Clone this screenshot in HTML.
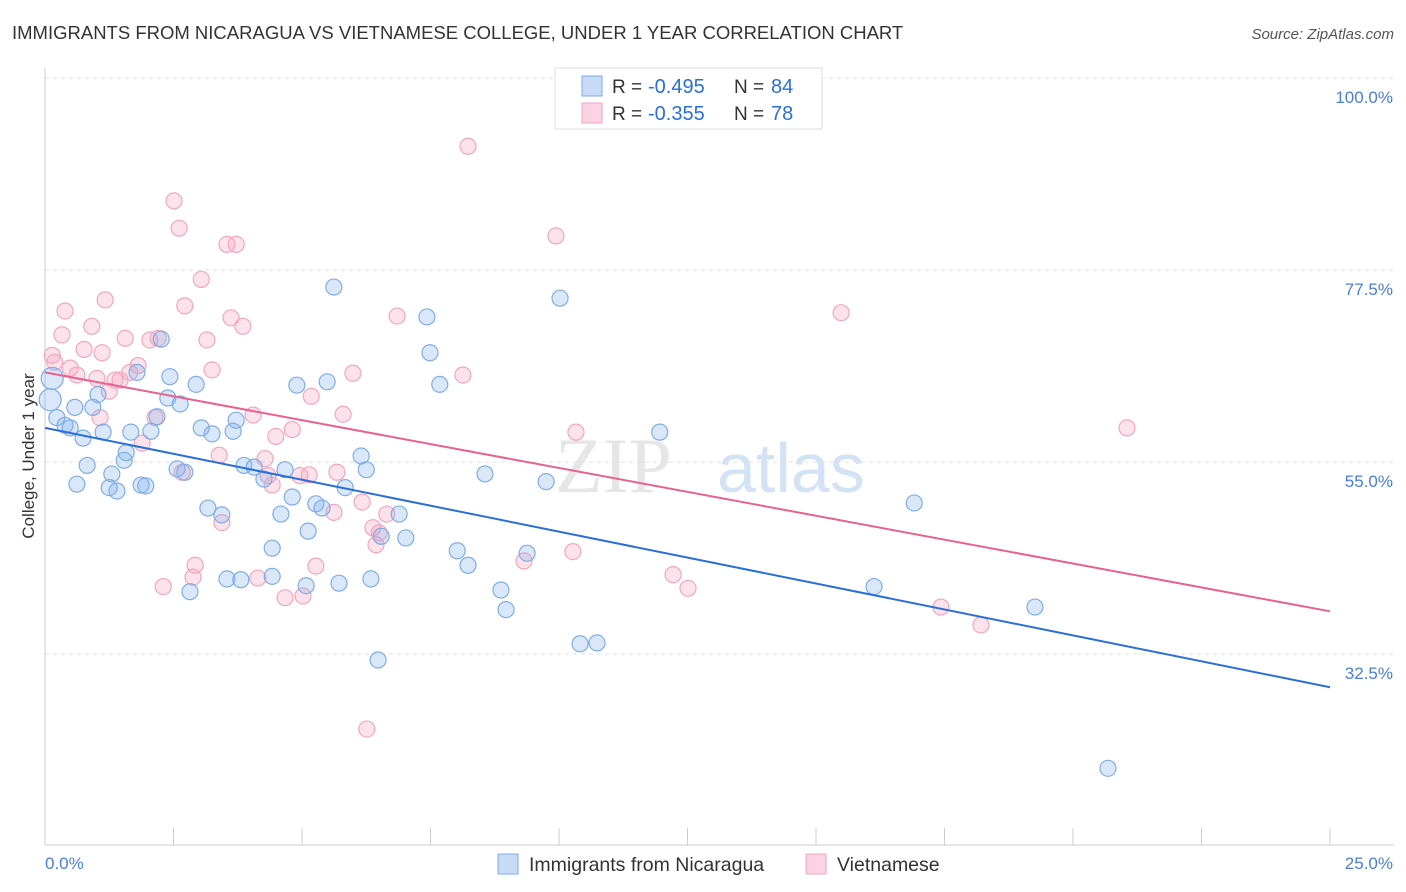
<!DOCTYPE html>
<html><head><meta charset="utf-8"><style>
body{margin:0;background:#fff;font-family:"Liberation Sans",sans-serif}
#wrap{position:relative;width:1406px;height:892px;overflow:hidden}
</style></head><body>
<div id="wrap">
<svg id="chart" width="1406" height="892"></svg>
</div>
<script>
const blueX=[0.14,0.10,0.23,0.39,0.49,0.58,0.62,0.74,0.82,0.93,1.03,1.13,1.25,1.30,1.40,1.54,1.58,1.67,1.79,1.87,1.96,2.06,2.18,2.26,2.43,2.39,2.63,2.57,2.72,2.82,2.94,3.04,3.17,3.25,3.44,3.54,3.66,3.72,3.81,3.87,4.07,4.26,4.42,4.42,4.59,4.67,4.81,4.90,5.08,5.12,5.27,5.39,5.49,5.62,5.72,5.84,6.15,6.25,6.34,6.48,6.54,6.89,7.02,7.43,7.49,7.68,8.02,8.23,8.56,8.87,8.97,9.38,9.75,10.02,10.41,10.74,11.96,16.13,16.91,19.26,20.68];
const blueY=[64.8,62.3,60.2,59.3,59.0,61.4,52.4,57.8,54.6,61.4,62.9,58.5,52.0,53.6,51.6,55.2,56.1,58.5,65.5,52.3,52.2,58.6,60.3,69.4,65.0,62.5,61.8,54.2,53.8,39.8,64.1,59.0,49.6,58.3,48.8,41.3,58.6,59.9,41.2,54.6,54.4,53.0,44.9,41.6,48.9,54.1,50.9,64.0,40.5,46.9,50.1,49.6,64.4,75.5,40.8,52.0,55.7,54.1,41.3,31.8,46.3,48.9,46.1,72.0,67.8,64.1,44.6,42.9,53.6,40.0,37.7,44.3,52.7,74.2,33.7,33.8,58.5,40.4,50.2,38.0,19.1];
const pinkX=[0.14,0.19,0.33,0.39,0.49,0.62,0.76,0.91,1.01,1.07,1.11,1.17,1.25,1.36,1.46,1.56,1.65,1.81,1.89,2.04,2.14,2.20,2.30,2.51,2.61,2.72,2.67,2.88,2.92,3.04,3.15,3.25,3.39,3.44,3.54,3.62,3.72,3.85,4.05,4.14,4.28,4.34,4.42,4.49,4.67,4.81,4.96,5.02,5.14,5.18,5.27,5.62,5.68,5.80,5.99,6.17,6.26,6.38,6.44,6.50,6.65,6.85,8.13,8.23,9.32,9.94,10.27,10.33,12.22,12.51,15.49,17.43,18.21,21.05];
const pinkY=[67.5,66.7,69.9,72.7,66.0,65.2,68.2,70.9,64.8,60.2,67.8,74.0,63.3,64.6,64.6,69.5,65.5,66.3,57.2,69.3,60.2,69.5,40.4,85.6,82.4,73.3,53.8,41.5,42.9,76.4,69.3,65.8,55.8,47.9,80.5,71.9,80.5,70.9,60.5,41.4,55.4,53.4,52.3,58.0,39.1,58.8,53.4,39.3,53.5,62.7,42.8,49.1,53.8,60.6,65.4,50.3,23.7,47.3,45.3,46.7,48.9,72.1,65.2,92.0,43.4,81.5,44.5,58.5,41.8,40.2,72.5,38.0,35.9,59.0];
const blueTrend=[59.0,28.6];
const pinkTrend=[65.5,37.5];
const yTicks=[100,77.5,55,32.5];
const yTickLabels=["100.0%","77.5%","55.0%","32.5%"];

const NS="http://www.w3.org/2000/svg";
const svg=document.getElementById('chart');
const X0=45,X1=1330;
function sx(v){return X0+(v/25)*(X1-X0);}
function sy(v){return 462-(v-55)*8.533;}
function el(tag,attrs,parent){const e=document.createElementNS(NS,tag);for(const k in attrs)e.setAttribute(k,attrs[k]);(parent||svg).appendChild(e);return e;}

let t=el('text',{x:12,y:39,'font-size':18.5,fill:'#333'});


t.textContent='IMMIGRANTS FROM NICARAGUA VS VIETNAMESE COLLEGE, UNDER 1 YEAR CORRELATION CHART';
t=el('text',{x:1394,y:39,'font-size':15,fill:'#555','font-style':'italic','text-anchor':'end'});


t.textContent='Source: ZipAtlas.com';

// watermark
t=el('text',{x:555,y:492,'font-size':78,fill:'#e6e6e6','font-family':'Liberation Serif, serif'});


t.textContent='ZIP';
t=el('text',{x:717,y:492,'font-size':70,fill:'#d4e3f4'});


t.textContent='atlas';

yTicks.forEach((v,i)=>{
  const g=el('line',{x1:X0,x2:1394,y1:sy(v),y2:sy(v),stroke:'#e2e2e2','stroke-dasharray':'4,4'});
  
  
  const l=el('text',{x:1393,y:sy(v)+25,'font-size':17,fill:'#4a7fd6','text-anchor':'end'});
  
  
  l.textContent=yTickLabels[i];
});
// axes
let a=el('line',{x1:X0,x2:X0,y1:68,y2:845,stroke:'#ccc'});


a=el('line',{x1:X0,x2:1394,y1:845,y2:845,stroke:'#ccc'});


for(let i=0;i<=10;i++){
  const tk=el('line',{x1:sx(i*2.5),x2:sx(i*2.5),y1:828,y2:845,stroke:'#ccc'});
  
  
}
t=el('text',{x:45,y:869,'font-size':17,fill:'#4a7fd6'});


t.textContent='0.0%';
t=el('text',{x:1393,y:869,'font-size':17,fill:'#4a7fd6','text-anchor':'end'});


t.textContent='25.0%';
t=el('text',{x:34,y:456,'font-size':17,fill:'#333','text-anchor':'middle',transform:'rotate(-90 34 456)'});


t.textContent='College, Under 1 year';

// points
pinkX.forEach((v,i)=>{
  const c=el('circle',{cx:sx(v),cy:sy(pinkY[i]),r:8,fill:'rgba(244,160,190,0.3)',stroke:'#f2a6c0','stroke-width':1.2});
  
  
});
blueX.forEach((v,i)=>{
  const c=el('circle',{cx:sx(v),cy:sy(blueY[i]),r:i<2?11:8,fill:'rgba(130,175,235,0.3)',stroke:'#7eaee6','stroke-width':1.2});
  
  
});
// trends
let ln=el('line',{x1:sx(0),y1:sy(blueTrend[0]),x2:sx(25),y2:sy(blueTrend[1]),stroke:'#2a6fd6','stroke-width':2});


ln=el('line',{x1:sx(0),y1:sy(pinkTrend[0]),x2:sx(25),y2:sy(pinkTrend[1]),stroke:'#e8628f','stroke-width':2});



// top legend
const lg=el('g',{});


el('rect',{x:555,y:68,width:267,height:61,fill:'#fff',stroke:'#ddd'},lg);
function legRow(y,fill,stroke,r,n,name){
  const g=el('g',{},lg);
  
  
  el('rect',{x:582,y:y-10,width:20,height:20,fill:fill,stroke:stroke},g);
  let tx=el('text',{x:612,y:y+7,'font-size':19,fill:'#333'},g);tx.textContent='R = ';
  tx=el('text',{x:648,y:y+7,'font-size':20,fill:'#2a6fd6'},g);tx.textContent=r;
  tx=el('text',{x:734,y:y+7,'font-size':19,fill:'#333'},g);tx.textContent='N = ';
  tx=el('text',{x:771,y:y+7,'font-size':20,fill:'#2a6fd6'},g);tx.textContent=n;
}
legRow(86,'rgba(130,175,235,0.45)','#7eaee6','-0.495','84','legend-nicaragua-stats');
legRow(113,'rgba(244,160,190,0.45)','#f2a6c0','-0.355','78','legend-vietnamese-stats');

// bottom legend
function botLeg(x,fill,stroke,label,name){
  const g=el('g',{});
  
  
  el('rect',{x:x,y:854,width:20,height:20,fill:fill,stroke:stroke},g);
  const tx=el('text',{x:x+31,y:871,'font-size':19.5,fill:'#333'},g);tx.textContent=label;
}
botLeg(498,'rgba(130,175,235,0.45)','#7eaee6','Immigrants from Nicaragua','legend-entry-nicaragua');
botLeg(806,'rgba(244,160,190,0.45)','#f2a6c0','Vietnamese','legend-entry-vietnamese');
</script>
</body></html>
